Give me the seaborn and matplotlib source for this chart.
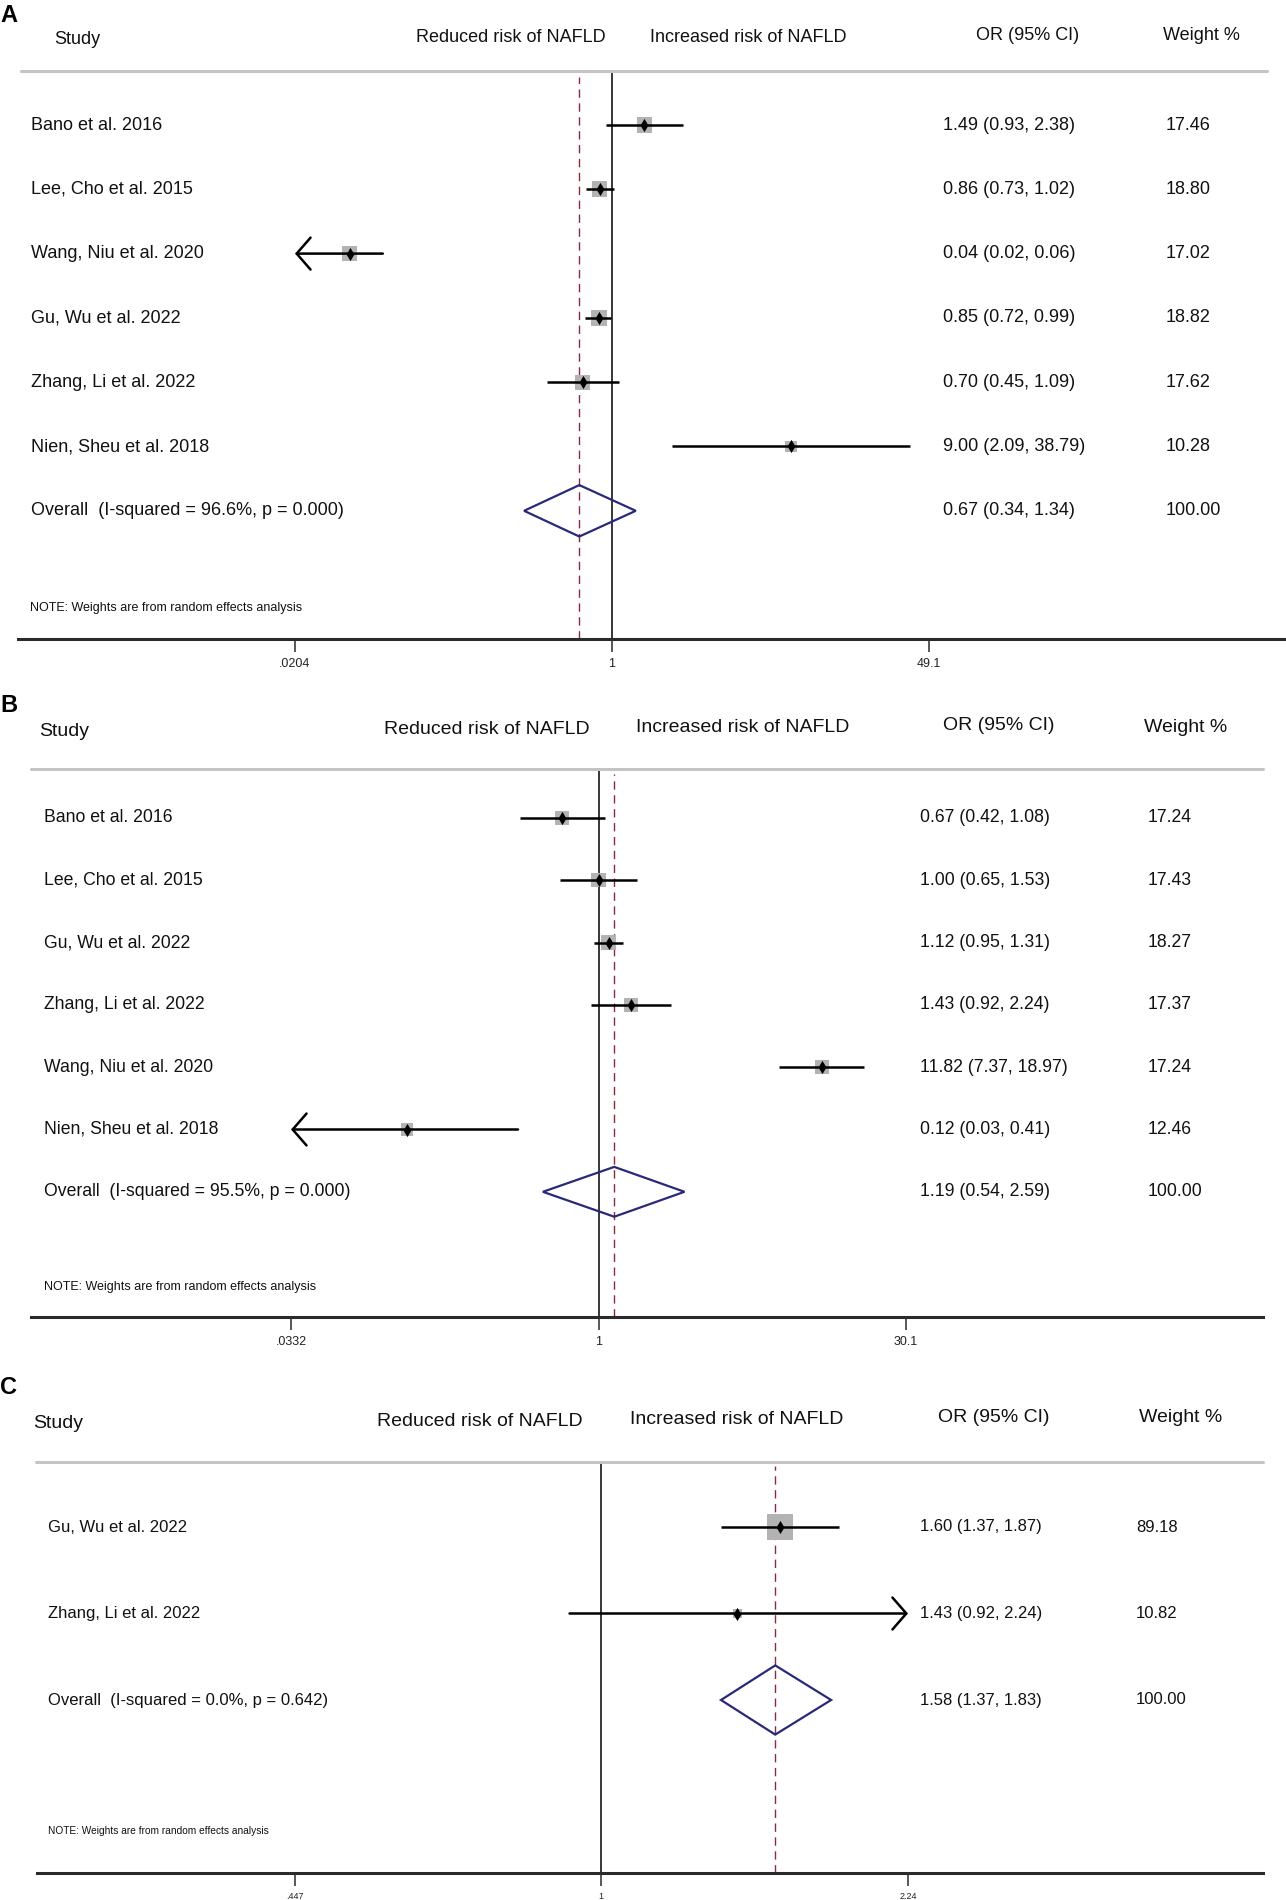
import numpy as np
import matplotlib
matplotlib.use("Agg")
import matplotlib.pyplot as plt
import seaborn as sns
from matplotlib.lines import Line2D
from matplotlib.ticker import NullLocator
from matplotlib.transforms import blended_transform_factory

W, H = 1286, 1900

# ---- panel A ----
studies_a = ["Bano et al. 2016", "Lee, Cho et al. 2015", "Wang, Niu et al. 2020",
             "Gu, Wu et al. 2022", "Zhang, Li et al. 2022", "Nien, Sheu et al. 2018"]
or_a = [1.49, 0.86, 0.04, 0.85, 0.70, 9.00]
lo_a = [0.93, 0.73, 0.02, 0.72, 0.45, 2.09]
hi_a = [2.38, 1.02, 0.06, 0.99, 1.09, 38.79]
wt_a = [17.46, 18.80, 17.02, 18.82, 17.62, 10.28]
overall_a = [0.67, 0.34, 1.34]
isq_a, p_a = "96.6%", "0.000"
ticks_a = [0.0204, 1, 49.1]
ticklab_a = [".0204", "1", "49.1"]

# ---- panel B ----
studies_b = ["Bano et al. 2016", "Lee, Cho et al. 2015", "Gu, Wu et al. 2022",
             "Zhang, Li et al. 2022", "Wang, Niu et al. 2020", "Nien, Sheu et al. 2018"]
or_b = [0.67, 1.00, 1.12, 1.43, 11.82, 0.12]
lo_b = [0.42, 0.65, 0.95, 0.92, 7.37, 0.03]
hi_b = [1.08, 1.53, 1.31, 2.24, 18.97, 0.41]
wt_b = [17.24, 17.43, 18.27, 17.37, 17.24, 12.46]
overall_b = [1.19, 0.54, 2.59]
isq_b, p_b = "95.5%", "0.000"
ticks_b = [0.0332, 1, 30.1]
ticklab_b = [".0332", "1", "30.1"]

# ---- panel C ----
studies_c = ["Gu, Wu et al. 2022", "Zhang, Li et al. 2022"]
or_c = [1.60, 1.43]
lo_c = [1.37, 0.92]
hi_c = [1.87, 2.24]
wt_c = [89.18, 10.82]
overall_c = [1.58, 1.37, 1.83]
isq_c, p_c = "0.0%", "0.642"
ticks_c = [0.447, 1, 2.24]
ticklab_c = [".447", "1", "2.24"]

sns.set_theme(style="white")
plt.rcParams["font.family"] = ["Liberation Sans", "DejaVu Sans"]

fig = plt.figure(figsize=(W / 100, H / 100), dpi=100)


def fx(px):
    return px / W


def fy(py):
    return 1 - py / H


def panel(letter, studies, est, lo, hi, wt, overall, isq, pval, ticks, ticklab, lay):
    L, R, top, axis = lay["left"], lay["right"], lay["top"], lay["axis"]
    ax = fig.add_axes([fx(L), fy(axis), (R - L) / W, (axis - top) / H])
    ax.set_xscale("log")
    # x range so that the outer ticks land where they should
    t0, t1 = np.log(ticks[0]), np.log(ticks[-1])
    p0, p1 = lay["tick_px"]
    s = (t1 - t0) / (p1 - p0)
    ax.set_xlim(np.exp(t0 + (L - p0) * s), np.exp(t0 + (R - p0) * s))
    n = len(studies)
    r1, step = lay["row1"], lay["step"]
    ax.set_ylim(1 + (axis - r1) / step, 1 - (r1 - top) / step)

    for sp in ["top", "left", "right"]:
        ax.spines[sp].set_visible(False)
    ax.spines["bottom"].set_color("#2a2a2a")
    ax.spines["bottom"].set_linewidth(2.2)
    ax.set_yticks([])
    ax.set_xticks(ticks)
    ax.set_xticklabels(ticklab)
    ax.xaxis.set_minor_locator(NullLocator())
    ax.tick_params(axis="x", bottom=True, direction="out", length=9.5, width=1.1,
                   color="#2a2a2a", labelsize=lay["tick_fs"], pad=4, labelcolor="#222")

    ax.axvline(1, color="black", lw=1.1, zorder=1)
    ax.axvline(overall[0], ymax=0.99, color="#8b2a3a", lw=1.0, ls=(0, (6, 4)), zorder=1)

    rows = np.arange(1, n + 1)
    est = np.array(est)
    lo = np.array(lo)
    hi = np.array(hi)
    wt = np.array(wt)

    sides = lay["box_k"] * np.sqrt(wt) * 0.72
    sns.scatterplot(x=est, y=rows, marker="s", s=sides ** 2, color="#b3b3b3",
                    linewidth=0, ax=ax, zorder=2)

    for y, e, l, h in zip(rows, est, lo, hi):
        if l < ticks[0]:
            ax.annotate("", xy=(ticks[0], y), xytext=(h, y),
                        arrowprops=dict(arrowstyle="->,head_length=1.0,head_width=1.15",
                                        color="black", lw=1.8, shrinkA=0, shrinkB=0,
                                        mutation_scale=10), zorder=3)
        elif h >= ticks[-1]:
            ax.annotate("", xy=(ticks[-1], y), xytext=(l, y),
                        arrowprops=dict(arrowstyle="->,head_length=1.0,head_width=1.15",
                                        color="black", lw=1.8, shrinkA=0, shrinkB=0,
                                        mutation_scale=10), zorder=3)
        else:
            ax.plot([l, h], [y, y], color="black", lw=1.8, solid_capstyle="butt", zorder=3)

    sns.scatterplot(x=est, y=rows, marker="d", s=45, color="black", linewidth=0,
                    ax=ax, zorder=4)

    oy = n + 1
    oe, ol, oh = overall
    ax.fill([ol, oe, oh, oe], [oy, oy - 0.4, oy, oy + 0.4], facecolor="none",
            edgecolor="#29297a", lw=1.6, zorder=3)
    ax.set_xlabel("")
    ax.set_ylabel("")

    # text columns
    tr = blended_transform_factory(fig.transFigure, ax.transData)
    fs = lay["row_fs"]
    for y, name, e, l, h, w in zip(rows, studies, est, lo, hi, wt):
        ax.text(fx(lay["label_x"]), y, name, transform=tr, ha="left", va="center", fontsize=fs, color="#111")
        ax.text(fx(lay["or_x"]), y, f"{e:.2f} ({l:.2f}, {h:.2f})", transform=tr,
                ha="left", va="center", fontsize=fs, color="#111")
        ax.text(fx(lay["wt_x"]), y, f"{w:.2f}", transform=tr, ha="left", va="center",
                fontsize=fs, color="#111")
    ax.text(fx(lay["label_x"]), oy, f"Overall  (I-squared = {isq}, p = {pval})", transform=tr,
            ha="left", va="center", fontsize=fs, color="#111")
    ax.text(fx(lay["or_x"]), oy, f"{oe:.2f} ({ol:.2f}, {oh:.2f})", transform=tr,
            ha="left", va="center", fontsize=fs, color="#111")
    ax.text(fx(lay["wt_x"]), oy, "100.00", transform=tr, ha="left", va="center",
            fontsize=fs, color="#111")

    # header
    fig.text(fx(0), fy(lay["letter_y"]), letter, fontsize=17, fontweight="bold",
             ha="left", va="center", color="black")
    hfs = lay["head_fs"]
    heads = ["Study", "Reduced risk of NAFLD", "Increased risk of NAFLD", "OR (95% CI)", "Weight %"]
    for txt, (hx, hy) in zip(heads, lay["heads"]):
        fig.text(fx(hx), fy(hy), txt, fontsize=hfs, ha="left", va="center", color="#111")
    g0, g1 = lay["gray"]
    fig.add_artist(Line2D([fx(g0), fx(g1)], [fy(top), fy(top)], color="#c4c4c4", lw=2.2))
    nx, ny = lay["note"]
    fig.text(fx(nx), fy(ny), "NOTE: Weights are from random effects analysis",
             fontsize=lay["note_fs"], ha="left", va="center", color="#111")
    return ax


lay_a = dict(left=18, right=1286, top=71, axis=639, row1=125, step=64.3, tick_px=(295, 929),
             label_x=31, or_x=943, wt_x=1166, letter_y=15,
             heads=[(54, 40), (416, 38), (650, 38), (976, 35), (1163, 35)],
             gray=(21, 1267), note=(30, 608), row_fs=13, head_fs=13, note_fs=9,
             tick_fs=9, box_k=3.6)
lay_b = dict(left=31, right=1263, top=769, axis=1317, row1=818, step=62.3, tick_px=(291, 906),
             label_x=44, or_x=920, wt_x=1148, letter_y=706,
             heads=[(39, 732), (384, 729), (636, 728), (943, 726), (1144, 728)],
             gray=(31, 1263), note=(44, 1287), row_fs=12.7, head_fs=14, note_fs=9,
             tick_fs=9, box_k=3.4)
lay_c = dict(left=37, right=1263, top=1462, axis=1873, row1=1527, step=86.5, tick_px=(295, 908),
             label_x=48, or_x=920, wt_x=1136, letter_y=1388,
             heads=[(33, 1423), (377, 1421), (630, 1419), (938, 1417), (1139, 1418)],
             gray=(36, 1263), note=(48, 1831), row_fs=12, head_fs=14, note_fs=7.3,
             tick_fs=6.5, box_k=2.85)

panel("A", studies_a, or_a, lo_a, hi_a, wt_a, overall_a, isq_a, p_a, ticks_a, ticklab_a, lay_a)
panel("B", studies_b, or_b, lo_b, hi_b, wt_b, overall_b, isq_b, p_b, ticks_b, ticklab_b, lay_b)
panel("C", studies_c, or_c, lo_c, hi_c, wt_c, overall_c, isq_c, p_c, ticks_c, ticklab_c, lay_c)

fig.savefig("out.png", dpi=100, facecolor="white")
